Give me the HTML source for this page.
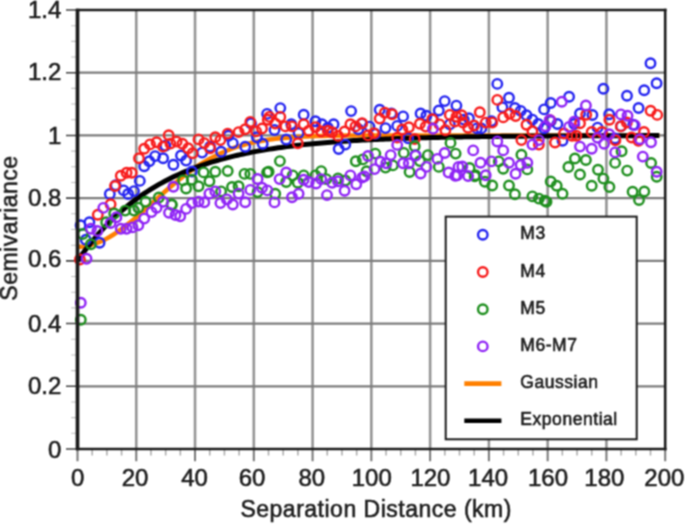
<!DOCTYPE html><html><head><meta charset="utf-8"><style>
html,body{margin:0;padding:0;background:#fff;width:685px;height:524px;overflow:hidden}
svg{display:block}
text{font-family:"Liberation Sans",sans-serif;fill:#1e1e1e;stroke:#1e1e1e;stroke-width:0.6px}
</style></head><body>
<svg width="685" height="524" viewBox="0 0 685 524">
<defs><filter id="bl" x="0" y="0" width="685" height="524" filterUnits="userSpaceOnUse" color-interpolation-filters="sRGB"><feConvolveMatrix order="3" kernelMatrix="1 2 1 2 4 2 1 2 1" edgeMode="duplicate" preserveAlpha="true"/></filter></defs>
<g filter="url(#bl)">
<rect x="0" y="0" width="685" height="524" fill="#fff"/>
<path d="M136.27 10.00V449.00M195.04 10.00V449.00M253.81 10.00V449.00M312.58 10.00V449.00M371.35 10.00V449.00M430.12 10.00V449.00M488.89 10.00V449.00M547.66 10.00V449.00M606.43 10.00V449.00" stroke="#959595" stroke-width="2.6" fill="none"/>
<path d="M77.50 386.29H665.20M77.50 323.57H665.20M77.50 260.86H665.20M77.50 198.14H665.20M77.50 135.43H665.20M77.50 72.71H665.20" stroke="#7c7c7c" stroke-width="2.3" fill="none"/>
<path d="M71.20 433.32H77.50M71.20 417.64H77.50M71.20 401.96H77.50M71.20 370.61H77.50M71.20 354.93H77.50M71.20 339.25H77.50M71.20 307.89H77.50M71.20 292.21H77.50M71.20 276.54H77.50M71.20 245.18H77.50M71.20 229.50H77.50M71.20 213.82H77.50M71.20 182.46H77.50M71.20 166.79H77.50M71.20 151.11H77.50M71.20 119.75H77.50M71.20 104.07H77.50M71.20 88.39H77.50M71.20 57.04H77.50M71.20 41.36H77.50M71.20 25.68H77.50" stroke="#c0c0c0" stroke-width="1.1" fill="none"/>
<path d="M92.19 449.00V455.50M106.89 449.00V455.50M121.58 449.00V455.50M150.96 449.00V455.50M165.66 449.00V455.50M180.35 449.00V455.50M209.73 449.00V455.50M224.43 449.00V455.50M239.12 449.00V455.50M268.50 449.00V455.50M283.19 449.00V455.50M297.89 449.00V455.50M327.27 449.00V455.50M341.97 449.00V455.50M356.66 449.00V455.50M386.04 449.00V455.50M400.74 449.00V455.50M415.43 449.00V455.50M444.81 449.00V455.50M459.50 449.00V455.50M474.20 449.00V455.50M503.58 449.00V455.50M518.27 449.00V455.50M532.97 449.00V455.50M562.35 449.00V455.50M577.05 449.00V455.50M591.74 449.00V455.50M621.12 449.00V455.50M635.82 449.00V455.50M650.51 449.00V455.50" stroke="#aaa" stroke-width="1.5" fill="none"/>
<path d="M66.00 449.00H77.50M66.00 386.29H77.50M66.00 323.57H77.50M66.00 260.86H77.50M66.00 198.14H77.50M66.00 135.43H77.50M66.00 72.71H77.50M66.00 10.00H77.50" stroke="#444" stroke-width="1.6" fill="none"/>
<path d="M77.50 449.00V461.30M136.27 449.00V461.30M195.04 449.00V461.30M253.81 449.00V461.30M312.58 449.00V461.30M371.35 449.00V461.30M430.12 449.00V461.30M488.89 449.00V461.30M547.66 449.00V461.30M606.43 449.00V461.30M665.20 449.00V461.30" stroke="#777" stroke-width="2.0" fill="none"/>
<path d="M77.50,246.75 L80.41,246.66 L83.32,246.41 L86.23,245.99 L89.14,245.41 L92.05,244.66 L94.95,243.76 L97.86,242.70 L100.77,241.49 L103.68,240.13 L106.59,238.64 L109.50,237.01 L112.41,235.26 L115.32,233.39 L118.23,231.41 L121.14,229.33 L124.05,227.15 L126.95,224.89 L129.86,222.56 L132.77,220.15 L135.68,217.69 L138.59,215.18 L141.50,212.63 L144.41,210.04 L147.32,207.44 L150.23,204.82 L153.14,202.19 L156.05,199.57 L158.96,196.96 L161.86,194.36 L164.77,191.79 L167.68,189.25 L170.59,186.74 L173.50,184.28 L176.41,181.87 L179.32,179.51 L182.23,177.20 L185.14,174.96 L188.05,172.78 L190.96,170.67 L193.86,168.62 L196.77,166.65 L199.68,164.75 L202.59,162.93 L205.50,161.17 L208.41,159.50 L211.32,157.90 L214.23,156.37 L217.14,154.92 L220.05,153.54 L222.96,152.24 L225.86,151.00 L228.77,149.83 L231.68,148.73 L234.59,147.70 L237.50,146.73 L240.41,145.82 L243.32,144.97 L246.23,144.17 L249.14,143.43 L252.05,142.74 L254.96,142.10 L257.87,141.51 L260.77,140.96 L263.68,140.46 L266.59,139.99 L269.50,139.56 L272.41,139.16 L275.32,138.80 L278.23,138.47 L281.14,138.17 L284.05,137.89 L286.96,137.64 L289.87,137.41 L292.77,137.20 L295.68,137.01 L298.59,136.84 L301.50,136.69 L304.41,136.55 L307.32,136.42 L310.23,136.31 L313.14,136.21 L316.05,136.12 L318.96,136.04 L321.87,135.96 L324.77,135.90 L327.68,135.84 L330.59,135.79 L333.50,135.75 L336.41,135.71 L339.32,135.67 L342.23,135.64 L345.14,135.61 L348.05,135.59 L350.96,135.57 L353.87,135.55 L356.78,135.53 L359.68,135.52 L362.59,135.51 L365.50,135.50 L368.41,135.49 L371.32,135.48 L374.23,135.47 L377.14,135.47 L380.05,135.46 L382.96,135.46 L385.87,135.45 L388.78,135.45 L391.68,135.45 L394.59,135.44 L397.50,135.44 L400.41,135.44 L403.32,135.44 L406.23,135.44 L409.14,135.43 L412.05,135.43 L414.96,135.43 L417.87,135.43 L420.78,135.43 L423.68,135.43 L426.59,135.43 L429.50,135.43 L432.41,135.43 L435.32,135.43 L438.23,135.43 L441.14,135.43 L444.05,135.43 L446.96,135.43 L449.87,135.43 L452.78,135.43 L455.68,135.43 L458.59,135.43 L461.50,135.43 L464.41,135.43 L467.32,135.43 L470.23,135.43 L473.14,135.43 L476.05,135.43 L478.96,135.43 L481.87,135.43 L484.78,135.43 L487.69,135.43 L490.59,135.43 L493.50,135.43 L496.41,135.43 L499.32,135.43 L502.23,135.43 L505.14,135.43 L508.05,135.43 L510.96,135.43 L513.87,135.43 L516.78,135.43 L519.69,135.43 L522.59,135.43 L525.50,135.43 L528.41,135.43 L531.32,135.43 L534.23,135.43 L537.14,135.43 L540.05,135.43 L542.96,135.43 L545.87,135.43 L548.78,135.43 L551.69,135.43 L554.59,135.43 L557.50,135.43 L560.41,135.43 L563.32,135.43 L566.23,135.43 L569.14,135.43 L572.05,135.43 L574.96,135.43 L577.87,135.43 L580.78,135.43 L583.69,135.43 L586.60,135.43 L589.50,135.43 L592.41,135.43 L595.32,135.43 L598.23,135.43 L601.14,135.43 L604.05,135.43 L606.96,135.43 L609.87,135.43 L612.78,135.43 L615.69,135.43 L618.60,135.43 L621.50,135.43 L624.41,135.43 L627.32,135.43 L630.23,135.43 L633.14,135.43 L636.05,135.43 L638.96,135.43 L641.87,135.43 L644.78,135.43 L647.69,135.43 L650.60,135.43 L653.50,135.43 L656.41,135.43 L659.32,135.43" stroke="#ff8000" stroke-width="4.5" fill="none" stroke-linecap="butt"/>
<path d="M77.50,260.86 L80.41,256.72 L83.32,252.71 L86.23,248.84 L89.14,245.10 L92.05,241.48 L94.95,237.98 L97.86,234.60 L100.77,231.32 L103.68,228.16 L106.59,225.10 L109.50,222.14 L112.41,219.28 L115.32,216.51 L118.23,213.84 L121.14,211.25 L124.05,208.75 L126.95,206.33 L129.86,203.99 L132.77,201.72 L135.68,199.54 L138.59,197.42 L141.50,195.37 L144.41,193.40 L147.32,191.48 L150.23,189.63 L153.14,187.84 L156.05,186.11 L158.96,184.44 L161.86,182.82 L164.77,181.26 L167.68,179.75 L170.59,178.28 L173.50,176.87 L176.41,175.50 L179.32,174.18 L182.23,172.90 L185.14,171.66 L188.05,170.47 L190.96,169.31 L193.86,168.19 L196.77,167.11 L199.68,166.07 L202.59,165.06 L205.50,164.08 L208.41,163.13 L211.32,162.22 L214.23,161.33 L217.14,160.48 L220.05,159.65 L222.96,158.85 L225.86,158.08 L228.77,157.33 L231.68,156.61 L234.59,155.91 L237.50,155.23 L240.41,154.58 L243.32,153.95 L246.23,153.34 L249.14,152.75 L252.05,152.17 L254.96,151.62 L257.87,151.09 L260.77,150.57 L263.68,150.07 L266.59,149.59 L269.50,149.12 L272.41,148.67 L275.32,148.23 L278.23,147.81 L281.14,147.40 L284.05,147.01 L286.96,146.62 L289.87,146.25 L292.77,145.90 L295.68,145.55 L298.59,145.22 L301.50,144.89 L304.41,144.58 L307.32,144.28 L310.23,143.99 L313.14,143.71 L316.05,143.43 L318.96,143.17 L321.87,142.91 L324.77,142.67 L327.68,142.43 L330.59,142.20 L333.50,141.97 L336.41,141.76 L339.32,141.55 L342.23,141.35 L345.14,141.15 L348.05,140.96 L350.96,140.78 L353.87,140.60 L356.78,140.43 L359.68,140.27 L362.59,140.11 L365.50,139.95 L368.41,139.80 L371.32,139.66 L374.23,139.52 L377.14,139.38 L380.05,139.25 L382.96,139.13 L385.87,139.01 L388.78,138.89 L391.68,138.77 L394.59,138.66 L397.50,138.56 L400.41,138.45 L403.32,138.35 L406.23,138.26 L409.14,138.16 L412.05,138.07 L414.96,137.99 L417.87,137.90 L420.78,137.82 L423.68,137.74 L426.59,137.66 L429.50,137.59 L432.41,137.52 L435.32,137.45 L438.23,137.38 L441.14,137.32 L444.05,137.26 L446.96,137.20 L449.87,137.14 L452.78,137.08 L455.68,137.03 L458.59,136.97 L461.50,136.92 L464.41,136.87 L467.32,136.83 L470.23,136.78 L473.14,136.74 L476.05,136.69 L478.96,136.65 L481.87,136.61 L484.78,136.57 L487.69,136.53 L490.59,136.50 L493.50,136.46 L496.41,136.43 L499.32,136.39 L502.23,136.36 L505.14,136.33 L508.05,136.30 L510.96,136.27 L513.87,136.25 L516.78,136.22 L519.69,136.19 L522.59,136.17 L525.50,136.14 L528.41,136.12 L531.32,136.10 L534.23,136.07 L537.14,136.05 L540.05,136.03 L542.96,136.01 L545.87,135.99 L548.78,135.97 L551.69,135.96 L554.59,135.94 L557.50,135.92 L560.41,135.91 L563.32,135.89 L566.23,135.88 L569.14,135.86 L572.05,135.85 L574.96,135.83 L577.87,135.82 L580.78,135.81 L583.69,135.79 L586.60,135.78 L589.50,135.77 L592.41,135.76 L595.32,135.75 L598.23,135.74 L601.14,135.73 L604.05,135.72 L606.96,135.71 L609.87,135.70 L612.78,135.69 L615.69,135.68 L618.60,135.67 L621.50,135.66 L624.41,135.66 L627.32,135.65 L630.23,135.64 L633.14,135.63 L636.05,135.63 L638.96,135.62 L641.87,135.62 L644.78,135.61 L647.69,135.60 L650.60,135.60 L653.50,135.59 L656.41,135.59 L659.32,135.58" stroke="#000" stroke-width="5.0" fill="none"/>
<g fill="none" stroke="#2424f0" stroke-width="2.4"><circle cx="109.8" cy="194.0" r="4.75"/><circle cx="115.7" cy="185.3" r="4.75"/><circle cx="123.7" cy="190.4" r="4.75"/><circle cx="128.1" cy="194.0" r="4.75"/><circle cx="134.0" cy="191.1" r="4.75"/><circle cx="139.8" cy="180.9" r="4.75"/><circle cx="144.2" cy="166.3" r="4.75"/><circle cx="149.3" cy="161.2" r="4.75"/><circle cx="155.1" cy="156.1" r="4.75"/><circle cx="163.1" cy="158.2" r="4.75"/><circle cx="165.3" cy="145.8" r="4.75"/><circle cx="173.4" cy="164.8" r="4.75"/><circle cx="80.6" cy="225.2" r="4.75"/><circle cx="89.4" cy="222.3" r="4.75"/><circle cx="85.8" cy="239.8" r="4.75"/><circle cx="99.6" cy="242.7" r="4.75"/><circle cx="181.0" cy="155.5" r="4.75"/><circle cx="186.1" cy="160.6" r="4.75"/><circle cx="191.9" cy="171.5" r="4.75"/><circle cx="202.1" cy="152.6" r="4.75"/><circle cx="210.1" cy="146.7" r="4.75"/><circle cx="221.1" cy="151.8" r="4.75"/><circle cx="228.4" cy="135.8" r="4.75"/><circle cx="232.8" cy="143.1" r="4.75"/><circle cx="245.2" cy="146.7" r="4.75"/><circle cx="251.0" cy="123.4" r="4.75"/><circle cx="256.9" cy="137.2" r="4.75"/><circle cx="262.7" cy="143.8" r="4.75"/><circle cx="267.1" cy="113.9" r="4.75"/><circle cx="280.3" cy="108.1" r="4.75"/><circle cx="274.5" cy="130.0" r="4.75"/><circle cx="286.2" cy="139.5" r="4.75"/><circle cx="291.3" cy="124.2" r="4.75"/><circle cx="298.6" cy="133.0" r="4.75"/><circle cx="303.7" cy="114.7" r="4.75"/><circle cx="315.4" cy="121.3" r="4.75"/><circle cx="321.9" cy="124.2" r="4.75"/><circle cx="327.8" cy="127.8" r="4.75"/><circle cx="333.6" cy="124.2" r="4.75"/><circle cx="338.7" cy="149.0" r="4.75"/><circle cx="345.3" cy="144.6" r="4.75"/><circle cx="351.1" cy="111.1" r="4.75"/><circle cx="358.4" cy="129.3" r="4.75"/><circle cx="361.9" cy="123.6" r="4.75"/><circle cx="369.5" cy="126.6" r="4.75"/><circle cx="375.3" cy="133.9" r="4.75"/><circle cx="379.7" cy="109.8" r="4.75"/><circle cx="385.5" cy="128.1" r="4.75"/><circle cx="391.4" cy="113.5" r="4.75"/><circle cx="397.2" cy="125.9" r="4.75"/><circle cx="403.1" cy="116.4" r="4.75"/><circle cx="408.2" cy="138.3" r="4.75"/><circle cx="420.6" cy="113.5" r="4.75"/><circle cx="426.4" cy="115.7" r="4.75"/><circle cx="433.0" cy="119.3" r="4.75"/><circle cx="438.8" cy="110.5" r="4.75"/><circle cx="444.7" cy="101.1" r="4.75"/><circle cx="449.8" cy="124.4" r="4.75"/><circle cx="456.4" cy="105.6" r="4.75"/><circle cx="415.5" cy="155.2" r="4.75"/><circle cx="463.8" cy="119.6" r="4.75"/><circle cx="468.9" cy="118.2" r="4.75"/><circle cx="476.9" cy="128.4" r="4.75"/><circle cx="481.3" cy="128.4" r="4.75"/><circle cx="491.5" cy="121.1" r="4.75"/><circle cx="497.3" cy="83.9" r="4.75"/><circle cx="502.4" cy="107.2" r="4.75"/><circle cx="509.0" cy="97.7" r="4.75"/><circle cx="514.9" cy="108.0" r="4.75"/><circle cx="520.7" cy="110.9" r="4.75"/><circle cx="526.5" cy="115.3" r="4.75"/><circle cx="532.4" cy="119.6" r="4.75"/><circle cx="538.2" cy="124.0" r="4.75"/><circle cx="544.1" cy="109.4" r="4.75"/><circle cx="550.7" cy="103.0" r="4.75"/><circle cx="544.1" cy="128.4" r="4.75"/><circle cx="569.1" cy="96.7" r="4.75"/><circle cx="580.0" cy="113.5" r="4.75"/><circle cx="592.4" cy="115.0" r="4.75"/><circle cx="603.4" cy="88.7" r="4.75"/><circle cx="609.2" cy="114.2" r="4.75"/><circle cx="627.0" cy="95.8" r="4.75"/><circle cx="638.6" cy="108.0" r="4.75"/><circle cx="644.2" cy="90.3" r="4.75"/><circle cx="650.5" cy="63.3" r="4.75"/><circle cx="656.6" cy="83.2" r="4.75"/><circle cx="550.8" cy="121.1" r="4.75"/><circle cx="557.4" cy="124.0" r="4.75"/><circle cx="562.5" cy="140.8" r="4.75"/><circle cx="574.2" cy="124.0" r="4.75"/><circle cx="597.6" cy="127.6" r="4.75"/><circle cx="615.1" cy="138.5" r="4.75"/><circle cx="620.9" cy="126.2" r="4.75"/><circle cx="633.3" cy="124.7" r="4.75"/></g>
<g fill="none" stroke="#f71c1c" stroke-width="2.4"><circle cx="139.0" cy="158.2" r="4.75"/><circle cx="144.2" cy="148.8" r="4.75"/><circle cx="150.0" cy="144.4" r="4.75"/><circle cx="156.6" cy="142.2" r="4.75"/><circle cx="163.1" cy="146.6" r="4.75"/><circle cx="170.4" cy="143.6" r="4.75"/><circle cx="120.8" cy="175.8" r="4.75"/><circle cx="126.6" cy="172.8" r="4.75"/><circle cx="131.7" cy="172.8" r="4.75"/><circle cx="115.0" cy="186.0" r="4.75"/><circle cx="110.6" cy="204.2" r="4.75"/><circle cx="97.8" cy="214.7" r="4.75"/><circle cx="79.9" cy="259.5" r="4.75"/><circle cx="168.7" cy="135.2" r="4.75"/><circle cx="176.6" cy="141.6" r="4.75"/><circle cx="182.4" cy="143.8" r="4.75"/><circle cx="188.2" cy="148.2" r="4.75"/><circle cx="192.6" cy="153.3" r="4.75"/><circle cx="198.5" cy="139.4" r="4.75"/><circle cx="204.3" cy="143.1" r="4.75"/><circle cx="210.1" cy="148.2" r="4.75"/><circle cx="215.3" cy="137.2" r="4.75"/><circle cx="220.4" cy="140.1" r="4.75"/><circle cx="227.7" cy="133.6" r="4.75"/><circle cx="238.6" cy="132.1" r="4.75"/><circle cx="245.2" cy="129.2" r="4.75"/><circle cx="250.3" cy="121.9" r="4.75"/><circle cx="256.1" cy="131.4" r="4.75"/><circle cx="262.0" cy="128.5" r="4.75"/><circle cx="267.8" cy="119.7" r="4.75"/><circle cx="269.4" cy="116.9" r="4.75"/><circle cx="275.2" cy="123.5" r="4.75"/><circle cx="280.3" cy="116.9" r="4.75"/><circle cx="285.4" cy="126.4" r="4.75"/><circle cx="292.0" cy="126.4" r="4.75"/><circle cx="297.8" cy="143.2" r="4.75"/><circle cx="303.7" cy="124.2" r="4.75"/><circle cx="308.8" cy="130.8" r="4.75"/><circle cx="315.4" cy="127.1" r="4.75"/><circle cx="321.2" cy="131.5" r="4.75"/><circle cx="327.8" cy="130.8" r="4.75"/><circle cx="332.2" cy="132.2" r="4.75"/><circle cx="338.0" cy="135.9" r="4.75"/><circle cx="344.6" cy="131.5" r="4.75"/><circle cx="350.4" cy="124.2" r="4.75"/><circle cx="355.5" cy="126.4" r="4.75"/><circle cx="362.1" cy="123.2" r="4.75"/><circle cx="368.0" cy="135.4" r="4.75"/><circle cx="373.9" cy="133.2" r="4.75"/><circle cx="379.7" cy="118.6" r="4.75"/><circle cx="384.8" cy="112.7" r="4.75"/><circle cx="392.1" cy="114.2" r="4.75"/><circle cx="397.2" cy="137.6" r="4.75"/><circle cx="402.3" cy="129.5" r="4.75"/><circle cx="408.9" cy="127.3" r="4.75"/><circle cx="414.7" cy="139.0" r="4.75"/><circle cx="419.9" cy="123.7" r="4.75"/><circle cx="425.7" cy="126.6" r="4.75"/><circle cx="432.3" cy="119.3" r="4.75"/><circle cx="439.6" cy="124.4" r="4.75"/><circle cx="445.4" cy="130.3" r="4.75"/><circle cx="449.8" cy="114.9" r="4.75"/><circle cx="454.9" cy="121.5" r="4.75"/><circle cx="456.5" cy="116.7" r="4.75"/><circle cx="461.6" cy="115.3" r="4.75"/><circle cx="463.0" cy="122.6" r="4.75"/><circle cx="468.1" cy="127.7" r="4.75"/><circle cx="474.0" cy="125.5" r="4.75"/><circle cx="479.8" cy="112.3" r="4.75"/><circle cx="485.7" cy="122.6" r="4.75"/><circle cx="492.2" cy="122.6" r="4.75"/><circle cx="497.3" cy="99.9" r="4.75"/><circle cx="503.2" cy="117.4" r="4.75"/><circle cx="509.7" cy="113.8" r="4.75"/><circle cx="515.6" cy="116.0" r="4.75"/><circle cx="526.5" cy="124.7" r="4.75"/><circle cx="532.4" cy="131.3" r="4.75"/><circle cx="521.4" cy="140.1" r="4.75"/><circle cx="538.9" cy="144.6" r="4.75"/><circle cx="550.1" cy="120.1" r="4.75"/><circle cx="586.2" cy="114.7" r="4.75"/><circle cx="609.4" cy="119.8" r="4.75"/><circle cx="555.0" cy="142.5" r="4.75"/><circle cx="564.0" cy="133.5" r="4.75"/><circle cx="572.0" cy="135.7" r="4.75"/><circle cx="576.4" cy="135.7" r="4.75"/><circle cx="580.0" cy="123.2" r="4.75"/><circle cx="591.7" cy="132.0" r="4.75"/><circle cx="602.0" cy="132.0" r="4.75"/><circle cx="615.4" cy="140.3" r="4.75"/><circle cx="620.8" cy="126.4" r="4.75"/><circle cx="626.8" cy="122.5" r="4.75"/><circle cx="631.6" cy="137.5" r="4.75"/><circle cx="638.5" cy="140.8" r="4.75"/><circle cx="644.0" cy="132.0" r="4.75"/><circle cx="650.6" cy="110.8" r="4.75"/><circle cx="657.2" cy="114.9" r="4.75"/></g>
<g fill="none" stroke="#1f8f1f" stroke-width="2.4"><circle cx="82.8" cy="234.0" r="4.75"/><circle cx="90.9" cy="244.2" r="4.75"/><circle cx="106.2" cy="222.3" r="4.75"/><circle cx="114.2" cy="213.5" r="4.75"/><circle cx="125.2" cy="210.6" r="4.75"/><circle cx="134.0" cy="210.6" r="4.75"/><circle cx="138.3" cy="207.7" r="4.75"/><circle cx="145.6" cy="201.8" r="4.75"/><circle cx="158.8" cy="197.5" r="4.75"/><circle cx="171.9" cy="204.8" r="4.75"/><circle cx="80.8" cy="319.8" r="4.75"/><circle cx="183.1" cy="180.4" r="4.75"/><circle cx="186.1" cy="188.5" r="4.75"/><circle cx="191.9" cy="179.7" r="4.75"/><circle cx="198.5" cy="186.3" r="4.75"/><circle cx="203.6" cy="172.4" r="4.75"/><circle cx="209.4" cy="181.2" r="4.75"/><circle cx="215.3" cy="171.7" r="4.75"/><circle cx="227.7" cy="171.0" r="4.75"/><circle cx="221.1" cy="191.4" r="4.75"/><circle cx="232.0" cy="187.0" r="4.75"/><circle cx="238.6" cy="186.3" r="4.75"/><circle cx="244.5" cy="173.9" r="4.75"/><circle cx="250.3" cy="173.9" r="4.75"/><circle cx="257.6" cy="192.1" r="4.75"/><circle cx="267.1" cy="172.4" r="4.75"/><circle cx="171.5" cy="204.5" r="4.75"/><circle cx="279.9" cy="161.1" r="4.75"/><circle cx="268.6" cy="171.8" r="4.75"/><circle cx="275.2" cy="193.7" r="4.75"/><circle cx="286.2" cy="182.0" r="4.75"/><circle cx="292.7" cy="175.4" r="4.75"/><circle cx="297.8" cy="182.7" r="4.75"/><circle cx="303.7" cy="175.4" r="4.75"/><circle cx="315.4" cy="175.4" r="4.75"/><circle cx="321.2" cy="171.1" r="4.75"/><circle cx="326.3" cy="179.1" r="4.75"/><circle cx="338.0" cy="178.4" r="4.75"/><circle cx="345.3" cy="180.5" r="4.75"/><circle cx="355.8" cy="161.2" r="4.75"/><circle cx="362.8" cy="159.4" r="4.75"/><circle cx="414.7" cy="146.3" r="4.75"/><circle cx="403.8" cy="152.9" r="4.75"/><circle cx="375.3" cy="153.6" r="4.75"/><circle cx="427.9" cy="155.1" r="4.75"/><circle cx="450.5" cy="142.9" r="4.75"/><circle cx="455.6" cy="153.6" r="4.75"/><circle cx="366.6" cy="171.3" r="4.75"/><circle cx="385.5" cy="167.6" r="4.75"/><circle cx="392.8" cy="165.4" r="4.75"/><circle cx="409.6" cy="172.0" r="4.75"/><circle cx="419.9" cy="161.1" r="4.75"/><circle cx="438.8" cy="166.9" r="4.75"/><circle cx="469.6" cy="168.0" r="4.75"/><circle cx="475.4" cy="175.3" r="4.75"/><circle cx="484.9" cy="181.8" r="4.75"/><circle cx="492.2" cy="185.5" r="4.75"/><circle cx="498.8" cy="161.4" r="4.75"/><circle cx="503.2" cy="168.7" r="4.75"/><circle cx="509.0" cy="185.5" r="4.75"/><circle cx="514.9" cy="194.2" r="4.75"/><circle cx="521.4" cy="154.8" r="4.75"/><circle cx="527.3" cy="169.4" r="4.75"/><circle cx="532.4" cy="196.4" r="4.75"/><circle cx="538.9" cy="198.6" r="4.75"/><circle cx="544.8" cy="200.8" r="4.75"/><circle cx="550.7" cy="181.5" r="4.75"/><circle cx="474.7" cy="176.4" r="4.75"/><circle cx="568.4" cy="167.0" r="4.75"/><circle cx="574.9" cy="158.5" r="4.75"/><circle cx="580.0" cy="174.5" r="4.75"/><circle cx="585.9" cy="160.0" r="4.75"/><circle cx="598.0" cy="169.8" r="4.75"/><circle cx="603.4" cy="178.6" r="4.75"/><circle cx="615.1" cy="162.9" r="4.75"/><circle cx="621.6" cy="151.2" r="4.75"/><circle cx="627.2" cy="170.6" r="4.75"/><circle cx="609.4" cy="187.0" r="4.75"/><circle cx="591.7" cy="185.8" r="4.75"/><circle cx="556.7" cy="185.8" r="4.75"/><circle cx="562.5" cy="193.8" r="4.75"/><circle cx="546.5" cy="201.8" r="4.75"/><circle cx="632.6" cy="191.7" r="4.75"/><circle cx="639.0" cy="200.0" r="4.75"/><circle cx="644.3" cy="191.5" r="4.75"/><circle cx="656.7" cy="176.8" r="4.75"/><circle cx="651.1" cy="163.0" r="4.75"/></g>
<g fill="none" stroke="#8f24f5" stroke-width="2.4"><circle cx="103.3" cy="207.9" r="4.75"/><circle cx="173.4" cy="186.7" r="4.75"/><circle cx="90.9" cy="228.8" r="4.75"/><circle cx="97.4" cy="231.0" r="4.75"/><circle cx="110.6" cy="223.0" r="4.75"/><circle cx="116.4" cy="217.2" r="4.75"/><circle cx="120.8" cy="228.8" r="4.75"/><circle cx="126.6" cy="228.8" r="4.75"/><circle cx="132.5" cy="227.4" r="4.75"/><circle cx="138.3" cy="225.2" r="4.75"/><circle cx="144.2" cy="218.6" r="4.75"/><circle cx="151.5" cy="212.1" r="4.75"/><circle cx="156.6" cy="207.7" r="4.75"/><circle cx="163.1" cy="201.8" r="4.75"/><circle cx="169.0" cy="212.8" r="4.75"/><circle cx="175.5" cy="215.0" r="4.75"/><circle cx="86.5" cy="258.8" r="4.75"/><circle cx="80.8" cy="302.7" r="4.75"/><circle cx="180.2" cy="216.2" r="4.75"/><circle cx="186.1" cy="208.9" r="4.75"/><circle cx="191.9" cy="203.1" r="4.75"/><circle cx="198.5" cy="201.6" r="4.75"/><circle cx="204.3" cy="202.3" r="4.75"/><circle cx="209.4" cy="193.6" r="4.75"/><circle cx="215.3" cy="191.4" r="4.75"/><circle cx="220.4" cy="203.1" r="4.75"/><circle cx="226.9" cy="199.4" r="4.75"/><circle cx="232.8" cy="204.5" r="4.75"/><circle cx="238.6" cy="193.6" r="4.75"/><circle cx="245.2" cy="202.3" r="4.75"/><circle cx="250.3" cy="189.9" r="4.75"/><circle cx="257.6" cy="179.0" r="4.75"/><circle cx="262.0" cy="187.7" r="4.75"/><circle cx="267.4" cy="190.4" r="4.75"/><circle cx="274.5" cy="202.4" r="4.75"/><circle cx="279.6" cy="179.1" r="4.75"/><circle cx="286.2" cy="172.5" r="4.75"/><circle cx="292.0" cy="197.3" r="4.75"/><circle cx="298.6" cy="193.7" r="4.75"/><circle cx="303.7" cy="179.8" r="4.75"/><circle cx="308.8" cy="182.0" r="4.75"/><circle cx="316.1" cy="183.5" r="4.75"/><circle cx="321.2" cy="179.1" r="4.75"/><circle cx="327.0" cy="195.1" r="4.75"/><circle cx="332.2" cy="182.7" r="4.75"/><circle cx="338.0" cy="181.3" r="4.75"/><circle cx="344.6" cy="190.8" r="4.75"/><circle cx="350.4" cy="175.4" r="4.75"/><circle cx="356.2" cy="184.2" r="4.75"/><circle cx="362.1" cy="177.6" r="4.75"/><circle cx="397.2" cy="144.9" r="4.75"/><circle cx="433.0" cy="128.8" r="4.75"/><circle cx="368.0" cy="156.0" r="4.75"/><circle cx="390.7" cy="155.1" r="4.75"/><circle cx="415.5" cy="155.6" r="4.75"/><circle cx="444.7" cy="153.0" r="4.75"/><circle cx="364.4" cy="176.4" r="4.75"/><circle cx="374.6" cy="169.1" r="4.75"/><circle cx="380.4" cy="161.8" r="4.75"/><circle cx="386.3" cy="163.2" r="4.75"/><circle cx="403.1" cy="163.2" r="4.75"/><circle cx="408.9" cy="163.2" r="4.75"/><circle cx="420.6" cy="173.5" r="4.75"/><circle cx="426.4" cy="166.9" r="4.75"/><circle cx="437.4" cy="158.9" r="4.75"/><circle cx="448.6" cy="172.5" r="4.75"/><circle cx="455.2" cy="175.9" r="4.75"/><circle cx="458.5" cy="166.9" r="4.75"/><circle cx="549.7" cy="120.0" r="4.75"/><circle cx="545.5" cy="126.2" r="4.75"/><circle cx="538.9" cy="140.1" r="4.75"/><circle cx="497.3" cy="141.5" r="4.75"/><circle cx="473.2" cy="150.4" r="4.75"/><circle cx="503.2" cy="150.4" r="4.75"/><circle cx="480.5" cy="162.8" r="4.75"/><circle cx="491.5" cy="161.4" r="4.75"/><circle cx="509.0" cy="162.8" r="4.75"/><circle cx="515.6" cy="173.8" r="4.75"/><circle cx="520.7" cy="165.0" r="4.75"/><circle cx="527.3" cy="162.8" r="4.75"/><circle cx="532.4" cy="144.6" r="4.75"/><circle cx="462.3" cy="166.5" r="4.75"/><circle cx="457.2" cy="175.3" r="4.75"/><circle cx="468.1" cy="176.0" r="4.75"/><circle cx="485.7" cy="175.3" r="4.75"/><circle cx="561.8" cy="101.8" r="4.75"/><circle cx="585.9" cy="105.5" r="4.75"/><circle cx="620.9" cy="114.4" r="4.75"/><circle cx="627.5" cy="115.7" r="4.75"/><circle cx="569.1" cy="126.9" r="4.75"/><circle cx="574.2" cy="121.8" r="4.75"/><circle cx="580.0" cy="146.6" r="4.75"/><circle cx="591.7" cy="148.8" r="4.75"/><circle cx="597.6" cy="137.8" r="4.75"/><circle cx="604.1" cy="143.7" r="4.75"/><circle cx="609.2" cy="134.2" r="4.75"/><circle cx="615.1" cy="152.4" r="4.75"/><circle cx="639.9" cy="139.3" r="4.75"/><circle cx="642.8" cy="156.6" r="4.75"/><circle cx="634.7" cy="125.1" r="4.75"/><circle cx="651.0" cy="142.3" r="4.75"/><circle cx="656.7" cy="171.7" r="4.75"/></g>
<path d="M76.00 10.00H666.50" stroke="#1c1c1c" stroke-width="2.7" fill="none"/>
<path d="M665.20 8.70V450.20" stroke="#1c1c1c" stroke-width="2.6" fill="none"/>
<path d="M76.00 449.00H666.50" stroke="#1c1c1c" stroke-width="2.5" fill="none"/>
<path d="M77.50 8.70V450.20" stroke="#1c1c1c" stroke-width="3.7" fill="none"/>
<text transform="translate(61.30 457.85) scale(1.0 1)" font-size="24" letter-spacing="0" text-anchor="end">0</text>
<text transform="translate(61.30 394.34) scale(1.0 1)" font-size="24" letter-spacing="0" text-anchor="end">0.2</text>
<text transform="translate(61.30 331.62) scale(1.0 1)" font-size="24" letter-spacing="0" text-anchor="end">0.4</text>
<text transform="translate(61.30 267.46) scale(1.0 1)" font-size="24" letter-spacing="0" text-anchor="end">0.6</text>
<text transform="translate(61.30 206.19) scale(1.0 1)" font-size="24" letter-spacing="0" text-anchor="end">0.8</text>
<text transform="translate(61.30 143.63) scale(1.0 1)" font-size="24" letter-spacing="0" text-anchor="end">1</text>
<text transform="translate(61.30 79.61) scale(1.0 1)" font-size="24" letter-spacing="0" text-anchor="end">1.2</text>
<text transform="translate(61.30 17.80) scale(1.0 1)" font-size="24" letter-spacing="0" text-anchor="end">1.4</text>
<text transform="translate(77.75 485.90) scale(1.0 1)" font-size="24" letter-spacing="0" text-anchor="middle">0</text>
<text transform="translate(134.97 485.90) scale(1.0 1)" font-size="24" letter-spacing="0" text-anchor="middle">20</text>
<text transform="translate(194.59 485.90) scale(1.0 1)" font-size="24" letter-spacing="0" text-anchor="middle">40</text>
<text transform="translate(252.11 485.90) scale(1.0 1)" font-size="24" letter-spacing="0" text-anchor="middle">60</text>
<text transform="translate(311.78 485.90) scale(1.0 1)" font-size="24" letter-spacing="0" text-anchor="middle">80</text>
<text transform="translate(371.70 485.90) scale(1.0 1)" font-size="24" letter-spacing="0" text-anchor="middle">100</text>
<text transform="translate(430.42 485.90) scale(1.0 1)" font-size="24" letter-spacing="0" text-anchor="middle">120</text>
<text transform="translate(488.14 485.90) scale(1.0 1)" font-size="24" letter-spacing="0" text-anchor="middle">140</text>
<text transform="translate(547.96 485.90) scale(1.0 1)" font-size="24" letter-spacing="0" text-anchor="middle">160</text>
<text transform="translate(604.38 485.90) scale(1.0 1)" font-size="24" letter-spacing="0" text-anchor="middle">180</text>
<text transform="translate(664.30 485.90) scale(1.0 1)" font-size="24" letter-spacing="0" text-anchor="middle">200</text>
<text x="376.2" y="516.5" font-size="23" letter-spacing="0.5" text-anchor="middle">Separation Distance (km)</text>
<text transform="translate(17.1 228) rotate(-90)" font-size="23" letter-spacing="0.5" text-anchor="middle">Semivariance</text>
<rect x="445.7" y="216.6" width="191.00000000000006" height="222.70000000000002" fill="#fff" stroke="#1c1c1c" stroke-width="2"/>
<circle cx="482.8" cy="234.8" r="4.75" fill="none" stroke="#2424f0" stroke-width="2.4"/>
<text x="520.3" y="239.40" font-size="17.5" letter-spacing="0.55">M3</text>
<circle cx="482.8" cy="272.0" r="4.75" fill="none" stroke="#f71c1c" stroke-width="2.4"/>
<text x="520.3" y="276.60" font-size="17.5" letter-spacing="0.55">M4</text>
<circle cx="482.8" cy="309.2" r="4.75" fill="none" stroke="#1f8f1f" stroke-width="2.4"/>
<text x="520.3" y="313.80" font-size="17.5" letter-spacing="0.55">M5</text>
<circle cx="482.8" cy="346.4" r="4.75" fill="none" stroke="#8f24f5" stroke-width="2.4"/>
<text x="520.3" y="351.00" font-size="17.5" letter-spacing="0.55">M6-M7</text>
<path d="M464.3 383.6H501.4" stroke="#ff8000" stroke-width="4.6"/>
<text x="520.3" y="388.20" font-size="17.5" letter-spacing="0.55">Gaussian</text>
<path d="M464.3 420.8H501.4" stroke="#000" stroke-width="4.6"/>
<text x="520.3" y="425.40" font-size="17.5" letter-spacing="0.55">Exponential</text>
</g></svg></body></html>
